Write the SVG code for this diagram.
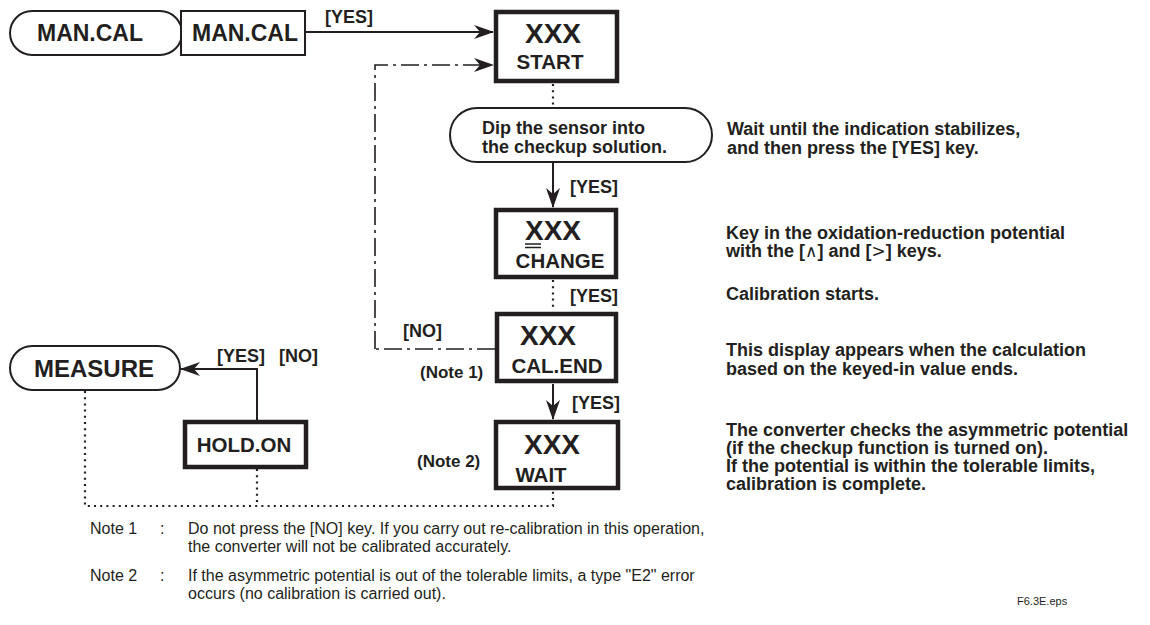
<svg xmlns="http://www.w3.org/2000/svg" width="1150" height="625" viewBox="0 0 1150 625">
<style>
text{font-family:"Liberation Sans",Arial,sans-serif;fill:#231f20}
.big{font-size:28px;font-weight:bold;text-anchor:middle}
.mc{font-size:23px;font-weight:bold;text-anchor:middle}
.mid{font-size:20.5px;font-weight:bold;text-anchor:middle}
.lbl{font-size:18px;font-weight:bold}
.nt{font-size:17px;font-weight:bold}
.desc{font-size:18px;font-weight:bold}
.note{font-size:16px}
.thin{fill:#fff;stroke:#231f20;stroke-width:2}
.thick{fill:#fff;stroke:#231f20;stroke-width:4.5}
.ln{fill:none;stroke:#231f20;stroke-width:2}
.dd{fill:none;stroke:#231f20;stroke-width:1.6;stroke-dasharray:18 5 3 5}
.dot{fill:none;stroke:#231f20;stroke-width:2.2;stroke-dasharray:2 4.2}
</style>
<defs>
<marker id="ah" viewBox="0 0 20 14" refX="19" refY="7" markerWidth="20" markerHeight="14" markerUnits="userSpaceOnUse" orient="auto">
<path d="M0,0 L20,7 L0,14 L6,7 z" fill="#231f20"/>
</marker>
</defs>

<g id="connectors">
<path class="ln" d="M305,32 H493" marker-end="url(#ah)"/>
<path class="dd" d="M375,349 V65 H493" marker-end="url(#ah)"/>
<path class="dd" d="M495,349 H375"/>
<path class="dot" d="M553,84 V107"/>
<path class="ln" d="M553,163 V207" marker-end="url(#ah)"/>
<path class="dot" d="M553,280 V311"/>
<path class="ln" d="M553,384 V419" marker-end="url(#ah)"/>
<path class="ln" d="M257,420 V369 H181" marker-end="url(#ah)"/>
<path class="dot" d="M85,391 V506 H553 V491"/>
<path class="dot" d="M257,469 V506"/>
</g>

<g id="mancal-pill">
<rect class="thin" x="10" y="11" width="172" height="44" rx="22"/>
<text class="mc" x="90" y="41">MAN.CAL</text>
</g>
<g id="mancal-box">
<rect class="thin" x="181" y="11" width="124" height="44"/>
<text class="mc" x="245" y="41">MAN.CAL</text>
</g>
<text class="lbl" x="325" y="23">[YES]</text>

<g id="start">
<rect class="thick" x="496" y="12" width="121" height="69"/>
<text class="big" x="553" y="43">XXX</text>
<text class="mid" x="550" y="69">START</text>
</g>

<g id="dip">
<rect class="thin" x="450" y="108" width="262" height="54" rx="27"/>
<text class="lbl" x="482" y="134">Dip the sensor into</text>
<text class="lbl" x="482" y="153">the checkup solution.</text>
</g>
<text class="lbl" x="570" y="193">[YES]</text>

<g id="change">
<rect class="thick" x="496" y="210" width="120" height="67"/>
<text class="big" x="553" y="240">XXX</text>
<path d="M525,244 H541 M525,247.5 H541" stroke="#231f20" stroke-width="1.5"/>
<text class="mid" x="560" y="268">CHANGE</text>
</g>
<text class="lbl" x="570" y="302">[YES]</text>

<g id="calend">
<rect class="thick" x="497" y="314" width="119" height="67"/>
<text class="big" x="548" y="345">XXX</text>
<text class="mid" x="557" y="373">CAL.END</text>
</g>
<text class="lbl" x="403" y="337">[NO]</text>
<text class="nt" x="420" y="378">(Note 1)</text>
<text class="lbl" x="572" y="409">[YES]</text>

<g id="wait">
<rect class="thick" x="496" y="422" width="122" height="66"/>
<text class="big" x="552" y="454">XXX</text>
<text class="mid" x="541" y="482">WAIT</text>
</g>
<text class="nt" x="417" y="467">(Note 2)</text>

<g id="measure">
<rect class="thin" x="10" y="346" width="170" height="44" rx="22"/>
<text class="mc" x="94" y="377" style="font-size:24px">MEASURE</text>
</g>
<text class="lbl" x="217" y="362">[YES]</text>
<text class="lbl" x="279" y="362">[NO]</text>

<g id="holdon">
<rect class="thick" x="185" y="422" width="121" height="45"/>
<text class="mid" x="244" y="452">HOLD.ON</text>
</g>

<g id="descriptions">
<text class="desc" x="727" y="135">Wait until the indication stabilizes,</text>
<text class="desc" x="727" y="154">and then press the [YES] key.</text>
<text class="desc" x="726" y="239">Key in the oxidation-reduction potential</text>
<text class="desc" x="726" y="257">with the [<tspan font-weight="normal" font-family="DejaVu Sans" font-size="17">∧</tspan>] and [<tspan font-weight="normal" font-family="DejaVu Sans" font-size="17">&gt;</tspan>] keys.</text>
<text class="desc" x="726" y="300">Calibration starts.</text>
<text class="desc" x="726" y="356">This display appears when the calculation</text>
<text class="desc" x="726" y="375">based on the keyed-in value ends.</text>
<text class="desc" x="726" y="436">The converter checks the asymmetric potential</text>
<text class="desc" x="726" y="454">(if the checkup function is turned on).</text>
<text class="desc" x="726" y="472">If the potential is within the tolerable limits,</text>
<text class="desc" x="726" y="490">calibration is complete.</text>
</g>

<g id="notes">
<text class="note" x="90" y="534">Note 1</text>
<text class="note" x="160" y="534">:</text>
<text class="note" x="188" y="534">Do not press the [NO] key. If you carry out re-calibration in this operation,</text>
<text class="note" x="188" y="552">the converter will not be calibrated accurately.</text>
<text class="note" x="90" y="581">Note 2</text>
<text class="note" x="160" y="581">:</text>
<text class="note" x="188" y="581">If the asymmetric potential is out of the tolerable limits, a type "E2" error</text>
<text class="note" x="188" y="599">occurs (no calibration is carried out).</text>
<text x="1017" y="605" style="font-size:11px">F6.3E.eps</text>
</g>
</svg>
